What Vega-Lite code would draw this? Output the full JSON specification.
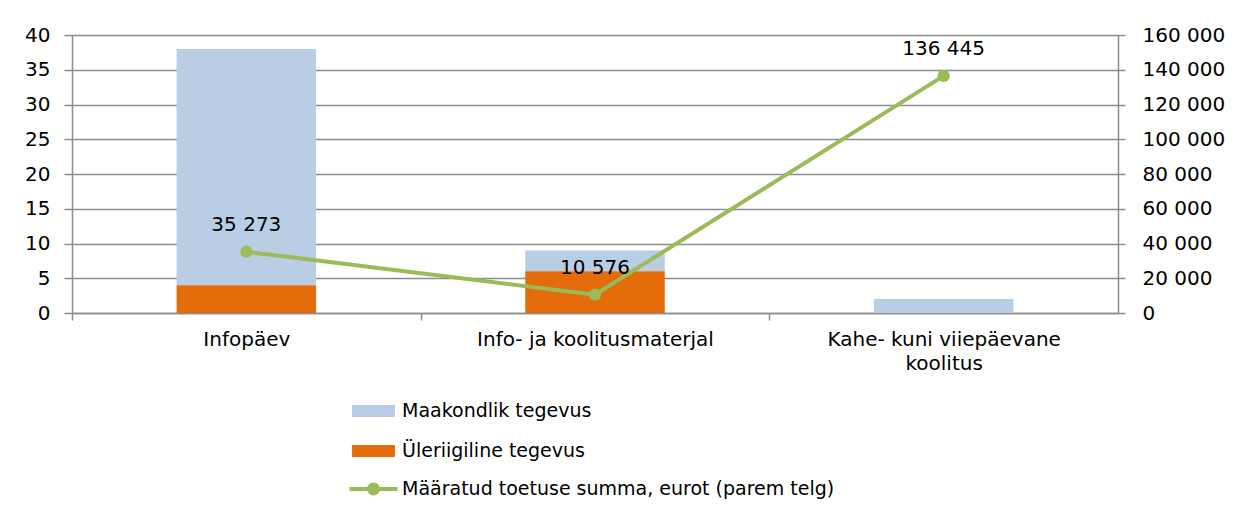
{
  "$schema": "https://vega.github.io/schema/vega-lite/v6.json",
  "width": 1046,
  "height": 278,
  "autosize": {"type": "none"},
  "padding": {"left": 72, "top": 35, "right": 120, "bottom": 196},
  "background": "white",
  "config": {
    "font": "DejaVu Sans",
    "view": {"stroke": null},
    "locale": {"number": {"decimal": ",", "thousands": " ", "grouping": [3], "currency": ["", ""]}},
    "axis": {
      "labelFont": "DejaVu Sans",
      "labelFontSize": 20,
      "labelColor": "#000000",
      "domainColor": "#8C8C8C",
      "tickColor": "#8C8C8C",
      "gridColor": "#8C8C8C",
      "domainWidth": 1.5,
      "tickWidth": 1.5,
      "gridWidth": 1.5,
      "labelOverlap": false,
      "title": null
    },
    "legend": {"labelFont": "DejaVu Sans", "labelFontSize": 19, "labelColor": "#000000", "labelLimit": 0}
  },
  "layer": [
    {
      "data": {
        "values": [
          {"tegevus": "Infopäev", "liik": "Maakondlik tegevus", "arv": 34},
          {"tegevus": "Infopäev", "liik": "Üleriigiline tegevus", "arv": 4},
          {"tegevus": "Info- ja koolitusmaterjal", "liik": "Maakondlik tegevus", "arv": 3},
          {"tegevus": "Info- ja koolitusmaterjal", "liik": "Üleriigiline tegevus", "arv": 6},
          {"tegevus": "Kahe- kuni viiepäevane koolitus", "liik": "Maakondlik tegevus", "arv": 2},
          {"tegevus": "Kahe- kuni viiepäevane koolitus", "liik": "Üleriigiline tegevus", "arv": 0}
        ]
      },
      "mark": {"type": "bar"},
      "encoding": {
        "x": {
          "field": "tegevus",
          "type": "nominal",
          "sort": ["Infopäev", "Info- ja koolitusmaterjal", "Kahe- kuni viiepäevane koolitus"],
          "scale": {"paddingInner": 0.6, "paddingOuter": 0.3},
          "axis": {
            "orient": "bottom",
            "tickOffset": -174.33,
            "labelOffset": 174.33,
            "tickSize": 7,
            "labelPadding": 9,
            "labelAngle": 0,
            "labelLimit": 0,
            "labelLineHeight": 24,
            "grid": false,
            "labelExpr": "datum.value == 'Kahe- kuni viiepäevane koolitus' ? ['Kahe- kuni viiepäevane', 'koolitus'] : datum.value"
          }
        },
        "y": {
          "field": "arv",
          "type": "quantitative",
          "stack": "zero",
          "scale": {"domain": [0, 40], "nice": false},
          "axis": {
            "orient": "left",
            "values": [0, 5, 10, 15, 20, 25, 30, 35, 40],
            "grid": true,
            "labelOverlap": false,
            "tickSize": 8,
            "labelPadding": 14
          }
        },
        "color": {
          "field": "liik",
          "type": "nominal",
          "scale": {"domain": ["Maakondlik tegevus", "Üleriigiline tegevus"], "range": ["#B9CDE5", "#E46C0A"]},
          "legend": {
            "orient": "none",
            "legendX": 286.5,
            "legendY": 361,
            "title": null,
            "symbolType": "M-1.43,-0.4H1.43V0.4H-1.43Z",
            "symbolSize": 900,
            "symbolStrokeWidth": 0,
            "labelOffset": 13.5,
            "rowPadding": 15
          }
        },
        "order": {"field": "liik", "sort": "descending"}
      }
    },
    {
      "data": {
        "values": [
          {"tegevus": "Infopäev", "summa": 35273},
          {"tegevus": "Info- ja koolitusmaterjal", "summa": 10576},
          {"tegevus": "Kahe- kuni viiepäevane koolitus", "summa": 136445}
        ]
      },
      "encoding": {
        "x": {"field": "tegevus", "type": "nominal", "sort": ["Infopäev", "Info- ja koolitusmaterjal", "Kahe- kuni viiepäevane koolitus"]},
        "y": {
          "field": "summa",
          "type": "quantitative",
          "scale": {"domain": [0, 160000], "nice": false},
          "axis": {
            "orient": "right",
            "values": [0, 20000, 40000, 60000, 80000, 100000, 120000, 140000, 160000],
            "format": ",.0f",
            "grid": false,
            "labelOverlap": false,
            "labelFlush": false,
            "tickSize": 7,
            "labelPadding": 17
          }
        }
      },
      "layer": [
        {
          "mark": {"type": "line", "strokeWidth": 4, "point": {"filled": true, "size": 150}},
          "encoding": {
            "color": {
              "datum": "Määratud toetuse summa, eurot (parem telg)",
              "type": "nominal",
              "scale": {"range": ["#9BBB59"]},
              "legend": {
                "orient": "none",
                "legendX": 286.5,
                "legendY": 439,
                "title": null,
                "symbolType": "M-1.6,-0.13H1.6V0.13H-1.6Z M0.43,0A0.43,0.43 0 1,1 -0.43,0A0.43,0.43 0 1,1 0.43,0Z",
                "symbolSize": 900,
                "labelOffset": 13.5,
                "encode": {
                  "symbols": {
                    "update": {
                      "fill": {"value": "#9BBB59"},
                      "stroke": {"value": "transparent"},
                      "strokeWidth": {"value": 0},
                      "opacity": {"value": 1}
                    }
                  }
                }
              }
            }
          }
        },
        {
          "mark": {"type": "text", "dy": -27, "fontSize": 20, "font": "DejaVu Sans", "color": "#000000", "baseline": "middle"},
          "encoding": {
            "text": {"field": "summa", "type": "quantitative", "format": ",.0f"}
          }
        }
      ]
    }
  ],
  "resolve": {"scale": {"y": "independent", "color": "independent"}}
}
